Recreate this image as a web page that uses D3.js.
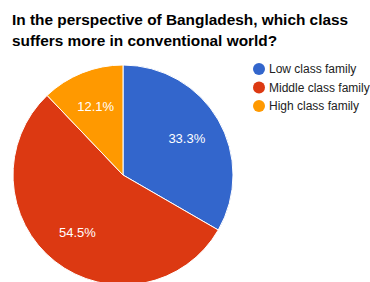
<!DOCTYPE html>
<html>
<head>
<meta charset="utf-8">
<script src="https://cdn.jsdelivr.net/npm/d3@7"></script>
<style>
  html, body { margin: 0; padding: 0; background: #fff; }
  svg { display: block; font-family: 'Liberation Sans', Arial, sans-serif; }
</style>
</head>
<body>
<svg id="chart"></svg>
<script>
const categories = ['Low class family', 'Middle class family', 'High class family'];
const counts = [11, 18, 4];
const colors = ['#3366cc', '#dc3912', '#ff9900'];
const titleLines = ['In the perspective of Bangladesh, which class', 'suffers more in conventional world?'];

const width = 370;
const height = 282;

const svg = d3.select('#chart')
    .attr('width', width)
    .attr('height', height);

// title
svg.append('g')
    .selectAll('text')
    .data(titleLines)
    .join('text')
    .attr('x', 12)
    .attr('y', (d, i) => 25 + i * 21)
    .attr('font-size', 15.4)
    .attr('font-weight', 'bold')
    .attr('fill', '#000')
    .text((d) => d);

// pie
const cx = 123;
const cy = 175;
const radius = 110;
const total = d3.sum(counts);

const pie = d3.pie().sort(null).value((d) => d);
const arc = d3.arc().innerRadius(0).outerRadius(radius);
const labelArc = d3.arc().innerRadius(radius * 0.67).outerRadius(radius * 0.67);

const pieLayer = svg.append('g')
    .attr('transform', 'translate(' + [cx, cy] + ')');

const arcs = pie(counts);

pieLayer.selectAll('path')
    .data(arcs)
    .join('path')
    .attr('d', arc)
    .attr('fill', (d, i) => colors[i])
    .attr('stroke', '#fff')
    .attr('stroke-width', 1);

pieLayer.selectAll('text')
    .data(arcs)
    .join('text')
    .attr('transform', (d) => 'translate(' + labelArc.centroid(d) + ')')
    .attr('text-anchor', 'middle')
    .attr('dy', '0.35em')
    .attr('font-size', 13)
    .attr('fill', '#fff')
    .text((d) => (d.value / total * 100).toFixed(1) + '%');

// legend
const legend = svg.append('g')
    .attr('transform', 'translate(259,69)');

const rows = legend.selectAll('g')
    .data(categories)
    .join('g')
    .attr('transform', (d, i) => 'translate(0,' + (i * 18.5) + ')');

rows.append('circle')
    .attr('r', 6)
    .attr('fill', (d, i) => colors[i]);

rows.append('text')
    .attr('x', 10)
    .attr('dy', '0.35em')
    .attr('font-size', 12)
    .attr('fill', '#222')
    .text((d) => d);
</script>
</body>
</html>
